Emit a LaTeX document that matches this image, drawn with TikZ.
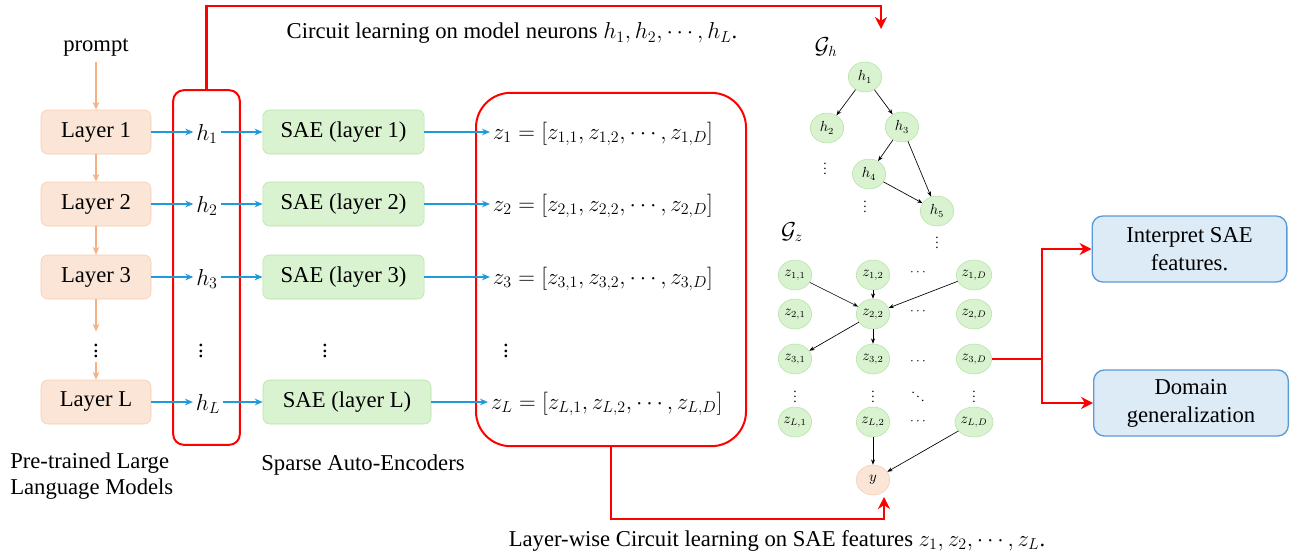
\documentclass[tikz,border=0pt]{standalone}
\usepackage{fontspec}
\setmainfont{Liberation Serif}
\usetikzlibrary{arrows.meta,shapes.geometric,positioning}

\definecolor{layerfill}{HTML}{FBE5D6}
\definecolor{layerline}{HTML}{F8CBAD}
\definecolor{layerarrow}{HTML}{F4B183}
\definecolor{saefill}{HTML}{D9F2D0}
\definecolor{saeline}{HTML}{B4E2A6}
\definecolor{flowblue}{HTML}{1F9BD7}
\definecolor{outfill}{HTML}{DDEBF7}
\definecolor{outborder}{HTML}{5B9BD5}
\definecolor{circred}{HTML}{FF0000}

\tikzset{
  layerbox/.style={draw=layerline,fill=layerfill,rounded corners=5pt,minimum width=82.5pt,minimum height=33pt},
  saebox/.style={draw=saeline,fill=saefill,rounded corners=5pt,minimum width=121pt,minimum height=33pt},
  outbox/.style={draw=outborder,fill=outfill,line width=1pt,rounded corners=8pt,minimum width=146pt,minimum height=49.5pt,align=center,font=\fontsize{17}{21}\selectfont},
  redbox/.style={draw=circred,line width=1.5pt},
  gnode/.style={ellipse,draw=saeline,fill=saefill,minimum width=25pt,minimum height=22.5pt,inner sep=0pt,font=\fontsize{10.5}{12}\selectfont},
  ynode/.style={gnode,draw=layerline,fill=layerfill},
  gdots/.style={font=\fontsize{10}{11}\selectfont,inner sep=0pt},
  glabel/.style={font=\fontsize{16}{18}\selectfont},
  layerarr/.style={draw=layerarrow,line width=1.1pt,-{Stealth[length=6pt,width=5pt]}},
  bluearr/.style={draw=flowblue,line width=1.1pt,-{Stealth[length=6pt,width=5pt]}},
  redarr/.style={draw=circred,line width=1.8pt,-{Stealth[length=9pt,width=9pt]}},
  redline/.style={draw=circred,line width=1.8pt},
  garr/.style={draw=black,line width=0.5pt,-{Stealth[length=4pt,width=3pt]}}
}

\begin{document}
\begin{tikzpicture}[x=0.75pt,y=-0.75pt,every node/.style={font=\fontsize{17}{20}\selectfont}]
\useasboundingbox (0,0) rectangle (1291,557);

\node (prompt) at (96,48) {prompt};
\node[layerbox] (l1) at (96,132) {Layer 1};
\node[layerbox] (l2) at (96,204) {Layer 2};
\node[layerbox] (l3) at (96,277) {Layer 3};
\node (ldots) at (96,347) {$\vdots$};
\node[layerbox] (lL) at (96,402) {Layer L};

\draw[layerarr] (prompt) -- (l1);
\draw[layerarr] (l1) -- (l2);
\draw[layerarr] (l2) -- (l3);
\draw[layerarr] (l3) -- (ldots);
\draw[layerarr] (ldots) -- (lL);

\node[inner sep=2pt] (h1) at (207,134) {$h_1$};
\node[inner sep=2pt] (h2) at (207,206) {$h_2$};
\node[inner sep=2pt] (h3) at (207,279) {$h_3$};
\node (hdots) at (201,347) {$\vdots$};
\node[inner sep=2pt] (hL) at (208,404) {$h_L$};
\node[redbox,rounded corners=8pt,minimum width=50pt,minimum height=266pt] (hbox) at (206.5,267.5) {};

\node[saebox] (s1) at (343.5,132) {SAE (layer 1)};
\node[saebox] (s2) at (343.5,204) {SAE (layer 2)};
\node[saebox] (s3) at (343.5,277) {SAE (layer 3)};
\node (sdots) at (325,347) {$\vdots$};
\node[saebox,minimum width=126pt] (sL) at (347,402) {SAE (layer L)};

\node[anchor=west,inner sep=2pt] (z1) at (490,134) {$z_1 = [z_{1,1}, z_{1,2}, \cdots, z_{1,D}]$};
\node[anchor=west,inner sep=2pt] (z2) at (490,206) {$z_2 = [z_{2,1}, z_{2,2}, \cdots, z_{2,D}]$};
\node[anchor=west,inner sep=2pt] (z3) at (490,279) {$z_3 = [z_{3,1}, z_{3,2}, \cdots, z_{3,D}]$};
\node (zdots) at (506,347) {$\vdots$};
\node[anchor=west,inner sep=2pt] (zL) at (488,404) {$z_L = [z_{L,1}, z_{L,2}, \cdots, z_{L,D}]$};
\node[redbox,rounded corners=26pt,minimum width=202.5pt,minimum height=265pt] (zbox) at (611,269.5) {};

\draw[bluearr] (l1) -- (l1 -| h1.west);
\draw[bluearr] (l2) -- (l2 -| h2.west);
\draw[bluearr] (l3) -- (l3 -| h3.west);
\draw[bluearr] (lL) -- (lL -| hL.west);
\draw[bluearr] (h1.east |- s1) -- (s1);
\draw[bluearr] (h2.east |- s2) -- (s2);
\draw[bluearr] (h3.east |- s3) -- (s3);
\draw[bluearr] (hL.east |- sL) -- (sL);
\draw[bluearr] (s1) -- (s1 -| z1.west);
\draw[bluearr] (s2) -- (s2 -| z2.west);
\draw[bluearr] (s3) -- (s3 -| z3.west);
\draw[bluearr] (sL) -- (sL -| zL.west);

\node[anchor=west,inner sep=0pt,align=left] (llmlabel) at (10,476) {Pre-trained Large\\Language Models};
\node (saelabel) at (363,465) {Sparse Auto-Encoders};
\node (toptext) at (512,33) {Circuit learning on model neurons $h_1, h_2, \cdots, h_L$.};
\node (bottext) at (777,541) {Layer-wise Circuit learning on SAE features $z_1, z_2, \cdots, z_L$.};

\node[glabel] (ghlabel) at (826,47) {$\mathcal{G}_h$};
\node[gnode] (gh1) at (865,77) {$h_1$};
\node[gnode] (gh2) at (827,128) {$h_2$};
\node[gnode] (gh3) at (902,127) {$h_3$};
\node[gnode] (gh4) at (869,174) {$h_4$};
\node[gnode] (gh5) at (937,211) {$h_5$};
\node[gdots] (gh2d) at (825,165) {$\vdots$};
\node[gdots] (gh4d) at (865,203) {$\vdots$};
\node[gdots] (gh5d) at (937,239) {$\vdots$};
\draw[garr] (gh1) -- (gh2);
\draw[garr] (gh1) -- (gh3);
\draw[garr] (gh3) -- (gh4);
\draw[garr] (gh3) -- (gh5);
\draw[garr] (gh4) -- (gh5);

\node[glabel] (gzlabel) at (792,232) {$\mathcal{G}_z$};
\node[gnode] (gz11) at (795,275) {$z_{1,1}$};
\node[gnode] (gz12) at (873,275) {$z_{1,2}$};
\node[gdots] (gz1c) at (918,273) {$\cdots$};
\node[gnode] (gz1D) at (974,275) {$z_{1,D}$};
\node[gnode] (gz21) at (795,314) {$z_{2,1}$};
\node[gnode] (gz22) at (873,314) {$z_{2,2}$};
\node[gdots] (gz2c) at (918,312) {$\cdots$};
\node[gnode] (gz2D) at (974,314) {$z_{2,D}$};
\node[gnode] (gz31) at (795,359) {$z_{3,1}$};
\node[gnode] (gz32) at (873,359) {$z_{3,2}$};
\node[gdots] (gz3c) at (918,362) {$\cdots$};
\node[gnode] (gz3D) at (974,359) {$z_{3,D}$};
\node[gdots] (gzv1) at (795,393) {$\vdots$};
\node[gdots] (gzv2) at (873,393) {$\vdots$};
\node[gdots] (gzdd) at (918,393) {$\ddots$};
\node[gdots] (gzvD) at (974,393) {$\vdots$};
\node[gnode] (gzL1) at (795,422) {$z_{L,1}$};
\node[gnode] (gzL2) at (873,422) {$z_{L,2}$};
\node[gdots] (gzLc) at (918,422) {$\cdots$};
\node[gnode] (gzLD) at (974,422) {$z_{L,D}$};
\node[ynode] (gy) at (873,480) {$y$};
\draw[garr] (gz11) -- (gz22);
\draw[garr] (gz12) -- (gz22);
\draw[garr] (gz1D) -- (gz22);
\draw[garr] (gz22) -- (gz31);
\draw[garr] (gz22) -- (gz32);
\draw[garr] (gzL2) -- (gy);
\draw[garr] (gzLD) -- (gy);

\node[outbox] (o1) at (1189.5,249) {Interpret SAE\\features.};
\node[outbox] (o2) at (1191,403) {Domain\\generalization};

\coordinate (topy) at (0,6);
\coordinate (ghin) at (881,29);
\draw[redarr] (hbox.north) -- (hbox.north |- topy) -| (ghin);
\coordinate (boty) at (0,519);
\coordinate (yin) at (884,497);
\draw[redarr] (zbox.south) -- (zbox.south |- boty) -| (yin);
\coordinate (split) at (1042,359);
\draw[redline] (gz3D) -- (split);
\draw[redarr] (split) |- (o1);
\draw[redarr] (split) |- (o2);
\end{tikzpicture}
\end{document}
